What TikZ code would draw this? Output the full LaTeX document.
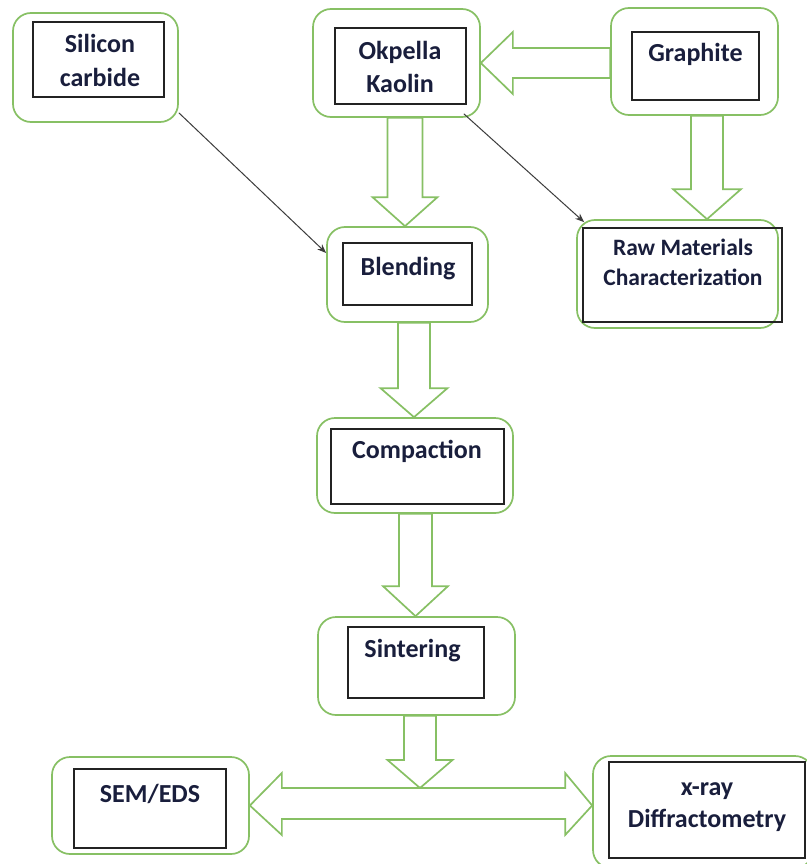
\documentclass[tikz,border=0pt]{standalone}
\usepackage{fontspec}
\setmainfont{Carlito}
\usetikzlibrary{calc,arrows.meta}
\definecolor{gline}{RGB}{135,192,100}
\definecolor{txt}{RGB}{25,30,60}
\definecolor{bline}{RGB}{35,35,35}
\definecolor{tline}{RGB}{60,60,60}
\newcommand{\gdown}[6]{% #1 start, #2 tip, #3 centre x, #4 shaft half, #5 head half, #6 head length
  \draw[blockarr] ({#3-#4},0 |- #1) -- ($({#3-#4},0 |- #2)+(0,-#6)$) -- ($({#3-#5},0 |- #2)+(0,-#6)$)
    -- (#3,0 |- #2) -- ($({#3+#5},0 |- #2)+(0,-#6)$) -- ($({#3+#4},0 |- #2)+(0,-#6)$)
    -- ({#3+#4},0 |- #1) -- cycle;}
\begin{document}
\begin{tikzpicture}[x=1pt,y=-1pt,
  obox/.style={draw=gline,line width=1.7pt,rounded corners=18pt,fill=white,inner sep=0pt},
  ibox/.style={draw=bline,line width=1.8pt,inner sep=0pt},
  lbl/.style={anchor=base,inner sep=0pt,text=txt,font=\fontsize{26}{30}\selectfont\bfseries},
  slbl/.style={anchor=base,inner sep=0pt,text=txt,font=\fontsize{23.5}{28}\selectfont\bfseries},
  blockarr/.style={draw=gline,line width=1.7pt,fill=white,line join=miter},
  thin/.style={draw=tline,line width=1pt,-{Stealth[length=9pt,width=7pt]}}]
\useasboundingbox (0,0) rectangle (806,864);
\fill[white] (0,0) rectangle (806,864);
% outer rounded boxes
\node[obox,minimum width=165pt,minimum height=109pt] (sic) at (95.5,67.5) {};
\node[obox,minimum width=167pt,minimum height=108pt] (okp) at (396.5,63) {};
\node[obox,minimum width=167pt,minimum height=107pt] (gra) at (694.5,61.5) {};
\node[obox,minimum width=161pt,minimum height=95pt] (blend) at (407.5,274.5) {};
\node[obox,minimum width=201pt,minimum height=108pt] (raw) at (677.5,274) {};
\node[obox,minimum width=196pt,minimum height=95pt] (comp) at (415,465.5) {};
\node[obox,minimum width=197pt,minimum height=98pt] (sint) at (416.5,666) {};
\node[obox,minimum width=197pt,minimum height=97pt] (sem) at (150.5,805.5) {};
\node[obox,minimum width=220pt,minimum height=112pt] (xray) at (703,812) {};
% inner black boxes
\node[ibox,minimum width=131pt,minimum height=75pt] (sicI) at (98.5,59.5) {};
\node[ibox,minimum width=131pt,minimum height=76pt] (okpI) at (400.5,66) {};
\node[ibox,minimum width=127pt,minimum height=68pt] (graI) at (695.5,66) {};
\node[ibox,minimum width=129pt,minimum height=62pt] (blendI) at (407.5,274) {};
\node[ibox,minimum width=199pt,minimum height=94pt] (rawI) at (682.5,275) {};
\node[ibox,minimum width=173pt,minimum height=75pt] (compI) at (417.5,466.5) {};
\node[ibox,minimum width=136pt,minimum height=71pt] (sintI) at (416,662.5) {};
\node[ibox,minimum width=152pt,minimum height=79pt] (semI) at (150,808.5) {};
\node[ibox,minimum width=196pt,minimum height=96pt] (xrayI) at (707,810) {};
% texts
\node[lbl] (t1) at (100,53) {Silicon};
\node[lbl] (t2) at (100,87) {carbide};
\node[lbl] (t3) at (400,60) {Okpella};
\node[lbl] (t4) at (400,93) {Kaolin};
\node[lbl] (t5) at (695.5,62) {Graphite};
\node[lbl] (t6) at (408,275) {Blending};
\node[slbl] (t7) at (683,255) {Raw Materials};
\node[slbl] (t8) at (683,285) {Characterization};
\node[lbl] (t9) at (417,458) {Compaction};
\node[lbl] (t10) at (412.5,657) {Sintering};
\node[lbl] (t11) at (150,802) {SEM/EDS};
\node[lbl] (t12) at (707,795) {x-ray};
\node[lbl] (t13) at (707,827) {Diffractometry};
% block arrows
\draw[blockarr] (gra.west |- 0,48) -- ($(okp.east |- 0,48)+(32,0)$) -- ($(okp.east |- 0,32)+(32,0)$)
  -- (okp.east |- 0,63) -- ($(okp.east |- 0,94)+(32,0)$) -- ($(okp.east |- 0,78)+(32,0)$)
  -- (gra.west |- 0,78) -- cycle;
\gdown{okp.south}{blend.north}{405}{17.5}{32.5}{29}
\gdown{gra.south}{raw.north}{707}{16}{34}{30}
\gdown{blend.south}{comp.north}{414}{16}{33.5}{29}
\gdown{comp.south}{sint.north}{415.5}{16.5}{32.5}{30}
\coordinate (junc) at (420,788);
\gdown{sint.south}{junc}{420}{16}{32.5}{28}
\draw[blockarr] (sem.east) -- ($(sem.east |- 0,773)+(32,0)$) -- ($(sem.east |- 0,788)+(32,0)$)
  -- ($(xray.west |- 0,788)+(-27,0)$) -- ($(xray.west |- 0,773)+(-27,0)$) -- (xray.west |- sem.east)
  -- ($(xray.west |- 0,835)+(-27,0)$) -- ($(xray.west |- 0,819)+(-27,0)$)
  -- ($(sem.east |- 0,819)+(32,0)$) -- ($(sem.east |- 0,835)+(32,0)$) -- cycle;
% thin arrows
\draw[thin] ($(sic.south east)+(0,-10)$) -- ($(blend.west)+(0,-21.5)$);
\draw[thin] ($(okp.south east)+(-17,-4)$) -- ($(raw.north west)+(8,3)$);
\end{tikzpicture}
\end{document}
